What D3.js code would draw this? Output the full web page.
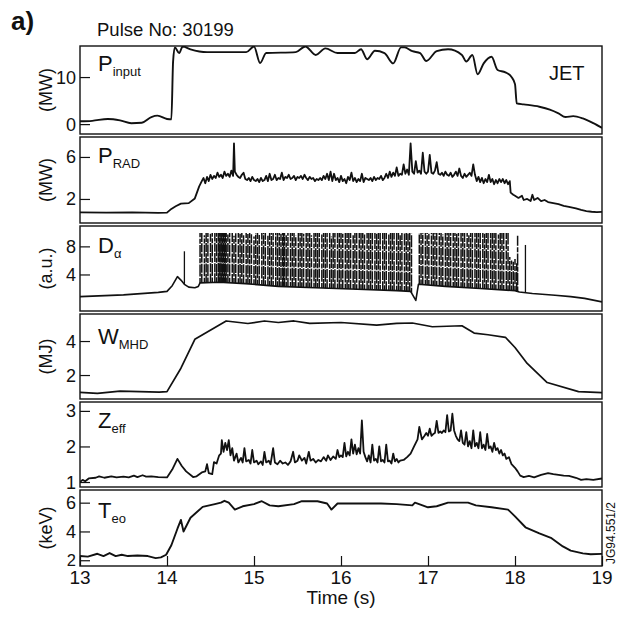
<!DOCTYPE html>
<html><head><meta charset="utf-8">
<script src="https://cdn.jsdelivr.net/npm/d3@7/dist/d3.min.js"></script>
<style>body{margin:0;background:#fff}text{font-family:"Liberation Sans",Arial,sans-serif;fill:#111}</style>
</head><body><svg id="c" width="622" height="634"></svg>
<script>
// ---------------- DATA ----------------
const timeTicks = [13,14,15,16,17,18,19];
const pulseNo = "30199";

const pinput = [[13.00,0.6],[13.14,0.7],[13.32,1.1],[13.46,0.8],[13.59,0.2],[13.71,0.3],[13.82,1.5],[13.89,1.8],[14.0,1.1],[14.05,1.0],[14.07,13.3],[14.09,16.3],[14.14,15.1],[14.18,16.5],[14.27,15.9],[14.46,15.3],[14.91,15.3],[15.0,16.5],[15.07,13.0],[15.14,15.1],[15.48,15.3],[15.59,16.5],[15.71,14.7],[15.82,16.1],[15.96,15.1],[16.16,15.1],[16.23,15.9],[16.30,13.8],[16.39,15.6],[16.50,15.1],[16.60,12.9],[16.69,16.3],[16.73,16.3],[16.82,15.5],[16.91,15.1],[16.98,13.4],[17.10,15.5],[17.23,15.9],[17.39,14.7],[17.44,13.3],[17.51,14.7],[17.57,10.6],[17.64,12.9],[17.73,14.3],[17.80,11.5],[17.89,11.0],[17.96,10.0],[18.0,8.5],[18.02,4.4],[18.10,4.2],[18.28,3.7],[18.40,3.1],[18.50,2.3],[18.58,1.5],[18.67,1.7],[18.78,1.2],[18.90,0.2],[19.0,-0.8]];

const prad = [[13.00,0.72],[13.30,0.70],[13.60,0.72],[13.90,0.68],[14.00,0.70],[14.05,1.05],[14.10,1.3],[14.16,1.55],[14.25,1.6],[14.32,2.05],[14.37,3.2],[14.40,3.7],[14.42,4.0],[14.44,3.5],[14.46,4.1],[14.48,3.7],[14.50,4.3],[14.52,3.9],[14.54,4.2],[14.56,4.0],[14.58,4.5],[14.60,4.1],[14.62,4.3],[14.64,4.0],[14.66,4.6],[14.68,4.2],[14.70,4.4],[14.72,4.1],[14.74,4.7],[14.76,4.2],[14.77,7.3],[14.78,4.6],[14.80,4.3],[14.82,4.1],[14.84,4.0],[14.86,4.3],[14.88,4.5],[14.90,3.9],[14.92,3.8],[14.94,4.0],[14.96,3.7],[14.98,4.1],[15.00,3.8],[15.02,3.7],[15.04,3.9],[15.06,3.6],[15.08,4.0],[15.10,3.7],[15.12,3.8],[15.14,4.2],[15.16,3.7],[15.18,4.4],[15.20,3.8],[15.22,3.9],[15.24,4.3],[15.26,3.8],[15.28,4.0],[15.30,3.9],[15.32,4.5],[15.34,3.8],[15.36,4.1],[15.38,4.0],[15.40,4.3],[15.42,3.9],[15.44,4.0],[15.46,4.2],[15.48,3.8],[15.50,4.1],[15.52,4.0],[15.54,4.2],[15.56,3.9],[15.58,4.3],[15.60,4.0],[15.62,3.8],[15.64,4.1],[15.66,3.9],[15.68,4.0],[15.70,3.7],[15.72,3.9],[15.74,3.8],[15.76,4.0],[15.78,3.8],[15.80,4.2],[15.82,3.9],[15.84,4.4],[15.86,3.8],[15.88,4.6],[15.90,3.7],[15.92,4.4],[15.94,3.8],[15.96,4.0],[15.98,3.6],[16.00,4.2],[16.02,3.7],[16.04,3.9],[16.06,3.5],[16.08,4.1],[16.10,3.8],[16.12,4.5],[16.14,3.7],[16.16,4.0],[16.18,3.6],[16.20,3.9],[16.22,3.7],[16.24,4.4],[16.26,3.6],[16.28,4.0],[16.30,3.9],[16.32,3.8],[16.34,4.0],[16.36,3.7],[16.38,4.1],[16.40,3.8],[16.42,4.0],[16.44,3.9],[16.46,4.2],[16.48,3.8],[16.50,4.0],[16.52,4.4],[16.54,4.0],[16.56,4.6],[16.58,4.1],[16.60,4.5],[16.62,4.2],[16.64,5.0],[16.66,4.2],[16.68,4.4],[16.70,4.3],[16.72,5.3],[16.74,4.4],[16.76,4.8],[16.78,4.3],[16.80,7.3],[16.82,4.6],[16.84,4.4],[16.86,5.6],[16.88,4.5],[16.90,4.7],[16.92,4.4],[16.94,6.4],[16.96,4.6],[16.98,4.4],[17.00,4.6],[17.02,6.2],[17.04,4.5],[17.06,4.4],[17.08,4.7],[17.10,5.5],[17.12,4.4],[17.14,4.3],[17.16,4.5],[17.18,4.2],[17.20,4.6],[17.22,4.3],[17.24,4.2],[17.26,4.5],[17.28,4.1],[17.30,4.3],[17.32,4.6],[17.34,4.2],[17.36,4.9],[17.38,4.2],[17.40,4.0],[17.42,4.4],[17.44,4.1],[17.46,4.3],[17.48,4.5],[17.50,4.2],[17.52,5.3],[17.54,4.3],[17.56,3.7],[17.58,4.1],[17.60,3.6],[17.62,4.0],[17.64,3.5],[17.66,3.9],[17.68,3.6],[17.70,4.3],[17.72,3.6],[17.74,3.9],[17.76,3.4],[17.78,3.8],[17.80,3.5],[17.82,3.9],[17.84,3.6],[17.86,3.9],[17.88,3.5],[17.90,3.8],[17.92,3.4],[17.94,3.7],[17.95,2.6],[17.98,2.4],[18.00,2.3],[18.04,2.1],[18.08,2.3],[18.10,1.9],[18.14,2.0],[18.18,1.8],[18.20,2.4],[18.22,1.9],[18.26,2.1],[18.30,1.8],[18.34,1.9],[18.38,1.7],[18.44,1.6],[18.50,1.5],[18.56,1.35],[18.62,1.25],[18.70,1.1],[18.76,0.95],[18.82,0.85],[18.88,0.78],[18.94,0.75],[19.00,0.76]];

const dalphaBase = [[13.0,0.85],[13.5,1.1],[13.9,1.45],[14.0,1.6],[14.06,2.4],[14.12,3.7],[14.16,3.2],[14.20,2.6],[14.25,2.2],[14.32,2.1],[14.36,2.3],[14.38,2.8],[14.6,2.9],[14.9,2.7],[15.28,2.3],[15.7,2.1],[16.19,1.9],[16.64,1.7],[16.80,1.6],[16.86,0.3],[16.89,2.6],[17.2,2.3],[17.6,2.0],[18.0,1.7],[18.05,1.5],[18.2,1.3],[18.46,1.05],[18.64,0.85],[18.8,0.6],[19.0,0.1]];

// ELM spikes of D-alpha: [time (s), peak (a.u.)]
const dalphaElms = [[14.20,7.3],[14.38,9.9],[14.40,9.9],[14.43,9.6],[14.45,9.9],[14.47,9.9],[14.50,9.8],[14.52,9.9],[14.55,9.9],[14.57,9.9],[14.59,9.9],[14.60,9.9],[14.61,9.9],[14.62,9.9],[14.63,9.9],[14.64,9.9],[14.65,9.9],[14.66,9.9],[14.67,9.9],[14.68,9.9],[14.70,9.7],[14.72,9.9],[14.75,9.9],[14.77,9.5],[14.79,9.9],[14.82,9.9],[14.84,9.8],[14.86,9.9],[14.88,9.6],[14.91,9.9],[14.93,9.9],[14.95,9.9],[14.97,9.9],[15.00,9.4],[15.02,9.9],[15.04,9.9],[15.06,9.7],[15.09,9.9],[15.11,9.9],[15.13,9.9],[15.16,9.5],[15.18,9.9],[15.20,9.9],[15.22,9.9],[15.25,9.9],[15.27,9.9],[15.29,9.9],[15.31,9.8],[15.33,9.9],[15.34,9.9],[15.35,9.9],[15.37,9.6],[15.39,9.9],[15.42,9.9],[15.44,9.9],[15.46,9.9],[15.48,9.5],[15.51,9.9],[15.53,9.9],[15.55,9.9],[15.57,9.8],[15.60,9.9],[15.62,9.9],[15.64,9.9],[15.66,9.6],[15.69,9.9],[15.71,9.9],[15.73,9.9],[15.75,9.9],[15.78,9.7],[15.80,9.9],[15.82,9.9],[15.84,9.9],[15.87,9.9],[15.89,9.4],[15.91,9.9],[15.93,9.9],[15.96,9.9],[15.98,9.9],[16.00,9.9],[16.02,9.8],[16.05,9.9],[16.07,9.9],[16.09,9.9],[16.11,9.9],[16.14,9.6],[16.16,9.9],[16.18,9.9],[16.21,9.9],[16.23,9.9],[16.25,9.9],[16.27,9.7],[16.30,9.9],[16.32,9.9],[16.34,9.9],[16.36,9.9],[16.39,9.9],[16.41,9.8],[16.43,9.9],[16.45,9.9],[16.48,9.9],[16.50,9.9],[16.52,9.9],[16.55,9.7],[16.57,9.9],[16.59,9.9],[16.61,9.9],[16.64,9.9],[16.66,9.9],[16.68,9.6],[16.70,9.9],[16.73,9.9],[16.75,9.9],[16.77,9.9],[16.79,9.9],[16.81,9.8],[16.90,9.9],[16.92,9.9],[16.94,9.9],[16.97,9.9],[16.99,9.9],[17.01,9.8],[17.04,9.9],[17.06,9.9],[17.08,9.9],[17.10,9.9],[17.13,9.9],[17.15,9.9],[17.17,9.7],[17.20,9.9],[17.22,9.9],[17.24,9.9],[17.26,9.9],[17.29,9.9],[17.31,9.9],[17.33,9.8],[17.35,9.9],[17.38,9.9],[17.40,9.9],[17.42,9.9],[17.45,9.9],[17.47,9.6],[17.49,9.9],[17.51,9.9],[17.54,9.9],[17.56,9.9],[17.58,9.9],[17.60,9.9],[17.63,9.9],[17.65,9.8],[17.67,9.9],[17.69,9.9],[17.72,9.9],[17.74,9.9],[17.76,9.9],[17.78,9.9],[17.81,9.7],[17.83,9.9],[17.85,9.9],[17.87,9.9],[17.90,9.9],[17.92,9.9],[17.94,6.5],[17.96,6.0],[17.98,5.8],[18.00,6.2],[18.02,5.6],[18.03,9.5],[18.12,8.2]];

const wmhd = [[13.0,0.98],[13.2,0.92],[13.46,1.05],[13.91,1.0],[14.0,1.02],[14.16,2.40],[14.32,4.10],[14.68,5.18],[14.93,5.03],[15.12,5.18],[15.28,5.09],[15.46,5.18],[15.64,5.04],[16.0,5.09],[16.41,4.94],[16.64,5.04],[16.82,5.06],[17.05,4.84],[17.39,4.90],[17.53,4.47],[17.69,4.37],[17.89,4.22],[18.0,3.62],[18.14,2.68],[18.37,1.56],[18.73,1.02],[19.0,0.96]];

const zeff = [[13.00,1.00],[13.03,1.06],[13.06,1.02],[13.10,1.10],[13.18,1.12],[13.22,1.16],[13.28,1.12],[13.36,1.16],[13.42,1.13],[13.50,1.15],[13.56,1.13],[13.62,1.18],[13.66,1.14],[13.72,1.19],[13.76,1.15],[13.82,1.16],[13.90,1.14],[14.00,1.13],[14.06,1.35],[14.12,1.65],[14.17,1.45],[14.22,1.30],[14.30,1.14],[14.34,1.16],[14.40,1.27],[14.44,1.30],[14.46,1.50],[14.48,1.25],[14.52,1.22],[14.54,1.56],[14.57,1.52],[14.60,1.75],[14.62,1.80],[14.63,2.18],[14.65,1.85],[14.67,2.10],[14.69,1.90],[14.71,2.18],[14.73,1.75],[14.75,1.95],[14.77,1.60],[14.80,1.80],[14.82,1.55],[14.85,1.68],[14.87,1.55],[14.89,1.95],[14.91,1.58],[14.94,1.62],[14.96,1.52],[14.98,1.90],[15.00,1.55],[15.03,1.60],[15.05,1.50],[15.08,1.58],[15.10,1.48],[15.12,1.85],[15.14,1.55],[15.17,1.60],[15.19,1.50],[15.22,1.95],[15.24,1.55],[15.27,1.50],[15.30,1.60],[15.33,1.52],[15.36,1.55],[15.39,1.48],[15.42,1.58],[15.45,1.85],[15.47,1.55],[15.50,1.60],[15.52,1.75],[15.55,1.60],[15.58,1.68],[15.60,1.52],[15.63,1.85],[15.65,1.60],[15.68,1.65],[15.71,1.55],[15.74,1.62],[15.77,1.58],[15.80,1.70],[15.83,1.60],[15.85,1.75],[15.88,1.62],[15.91,1.72],[15.94,1.65],[15.96,1.90],[15.98,1.70],[16.00,1.75],[16.02,1.70],[16.04,2.10],[16.06,1.72],[16.08,1.85],[16.10,1.75],[16.12,2.20],[16.14,1.80],[16.16,2.05],[16.18,1.78],[16.20,1.95],[16.22,1.80],[16.24,2.73],[16.26,1.85],[16.28,1.70],[16.30,1.58],[16.32,1.75],[16.34,1.55],[16.36,2.05],[16.38,1.60],[16.40,1.65],[16.42,1.55],[16.44,2.00],[16.46,1.58],[16.48,1.62],[16.50,1.55],[16.52,2.05],[16.54,1.58],[16.56,1.60],[16.58,1.52],[16.60,1.80],[16.62,1.58],[16.64,1.65],[16.66,1.55],[16.68,1.60],[16.72,1.62],[16.76,1.70],[16.80,1.80],[16.84,2.00],[16.88,2.20],[16.90,2.55],[16.93,2.20],[16.96,2.30],[16.98,2.38],[17.00,2.30],[17.02,2.50],[17.04,2.30],[17.06,2.35],[17.08,2.38],[17.10,2.72],[17.12,2.38],[17.14,2.42],[17.16,2.38],[17.18,2.45],[17.20,2.40],[17.22,2.88],[17.24,2.42],[17.26,2.45],[17.28,2.92],[17.30,2.45],[17.32,2.30],[17.34,2.20],[17.36,2.15],[17.38,2.45],[17.40,2.10],[17.42,2.05],[17.44,2.40],[17.46,2.00],[17.48,2.15],[17.50,1.95],[17.52,2.45],[17.54,2.00],[17.56,2.10],[17.58,1.95],[17.60,2.40],[17.62,1.95],[17.64,2.05],[17.66,1.90],[17.68,2.35],[17.70,1.95],[17.72,2.00],[17.74,1.85],[17.76,2.10],[17.78,1.90],[17.80,1.95],[17.82,1.80],[17.84,1.90],[17.86,1.75],[17.88,1.80],[17.90,1.65],[17.93,1.70],[17.96,1.50],[18.00,1.40],[18.03,1.30],[18.06,1.18],[18.10,1.14],[18.16,1.17],[18.22,1.13],[18.30,1.20],[18.38,1.25],[18.44,1.22],[18.50,1.20],[18.56,1.18],[18.62,1.17],[18.70,1.12],[18.76,1.06],[18.82,1.08],[18.90,1.06],[19.00,1.10]];

const teo = [[13.0,2.29],[13.09,2.25],[13.2,2.45],[13.27,2.29],[13.34,2.5],[13.41,2.29],[13.48,2.38],[13.55,2.29],[13.66,2.33],[13.78,2.29],[13.87,2.15],[13.93,2.2],[13.99,2.38],[14.05,3.04],[14.12,4.19],[14.16,4.8],[14.19,4.0],[14.27,4.95],[14.41,5.71],[14.55,5.9],[14.62,6.0],[14.66,6.13],[14.71,6.0],[14.78,5.52],[14.87,5.75],[15.0,5.9],[15.09,6.1],[15.18,5.81],[15.28,5.75],[15.46,5.9],[15.55,6.1],[15.73,6.1],[15.84,5.94],[15.89,5.52],[15.96,5.94],[16.19,5.94],[16.46,5.94],[16.64,5.9],[16.82,5.81],[16.85,6.0],[17.0,5.68],[17.1,5.75],[17.23,6.0],[17.46,6.0],[17.55,5.81],[17.73,5.68],[17.92,5.52],[18.0,5.05],[18.12,4.29],[18.28,3.86],[18.42,3.53],[18.55,2.96],[18.64,2.67],[18.78,2.48],[18.87,2.42],[19.0,2.44]];

// ---------------- LAYOUT ----------------
const svg = d3.select("#c");
const X0 = 80, X1 = 602;
const x = d3.scaleLinear().domain([13,19]).range([X0,X1]);

const panels = [
  {top:46, bot:134, dom:[-2.1,16.6], ticks:[0,10], unit:"(MW)", sym:"P", sub:"input", lab:25, data:pinput, curve:d3.curveMonotoneX, sw:1.9},
  {top:137, bot:223, dom:[-0.29,7.9], ticks:[2,6], unit:"(MW)", sym:"P", sub:"RAD", lab:26, data:prad, curve:d3.curveLinear, sw:1.8},
  {top:226, bot:311, dom:[-1.2,10.9], ticks:[4,8], unit:"(a.u.)", sym:"D", sub:"\u03b1", lab:27, data:dalphaBase, curve:d3.curveLinear, sw:1.6},
  {top:314, bot:399, dom:[0.59,5.59], ticks:[2,4], unit:"(MJ)", sym:"W", sub:"MHD", lab:30, data:wmhd, curve:d3.curveLinear, sw:1.7},
  {top:402, bot:487, dom:[0.86,3.25], ticks:[1,2,3], unit:"", sym:"Z", sub:"eff", lab:26, data:zeff, curve:d3.curveLinear, sw:1.8},
  {top:490, bot:566, dom:[1.6,6.88], ticks:[2,4,6], unit:"(keV)", sym:"T", sub:"eo", lab:28, data:teo, curve:d3.curveLinear, sw:1.9}
];

svg.append("text").attr("x",11).attr("y",30).attr("font-size",26).attr("font-weight","bold").text("a)");
svg.append("text").attr("x",97).attr("y",36).attr("font-size",18.5).text("Pulse No: " + pulseNo);

panels.forEach((p,i) => {
  const y = d3.scaleLinear().domain(p.dom).range([p.bot,p.top]);
  const g = svg.append("g");
  g.append("rect").attr("x",X0).attr("y",p.top).attr("width",X1-X0).attr("height",p.bot-p.top)
    .attr("fill","none").attr("stroke","#111").attr("stroke-width",1.4);
  const ax = d3.axisRight(y).tickValues(p.ticks).tickSize(10).tickFormat("");
  const ag = g.append("g").attr("transform",`translate(${X0},0)`).call(ax);
  ag.select(".domain").remove();
  ag.selectAll("line").attr("stroke","#111").attr("stroke-width",1.2);
  p.ticks.forEach(t => {
    g.append("text").attr("x",X0-4).attr("y",y(t)).attr("dy","0.36em").attr("text-anchor","end")
      .attr("font-size",i === 5 && t === 2 ? 16.5 : 18).text(t);
  });
  if (p.unit) {
    g.append("text").attr("transform",`translate(52,${(p.top+p.bot)/2}) rotate(-90)`)
      .attr("text-anchor","middle").attr("font-size",18).text(p.unit);
  }
  const lbl = g.append("text").attr("x",98).attr("y",p.top+p.lab).attr("font-size",22);
  lbl.append("tspan").text(p.sym);
  lbl.append("tspan").attr("font-size",13).attr("dy",5).text(p.sub);

  const clipId = "clip"+i;
  svg.append("clipPath").attr("id",clipId).append("rect").attr("x",X0).attr("y",p.top).attr("width",X1-X0).attr("height",p.bot-p.top);
  const line = d3.line().x(d=>x(d[0])).y(d=>y(d[1])).curve(p.curve);
  g.append("path").attr("clip-path",`url(#${clipId})`).attr("d",line(p.data)).attr("fill","none")
    .attr("stroke","#111").attr("stroke-width",p.sw).attr("stroke-linejoin","round");

  if (i === 2) {
    const baseAt = d3.scaleLinear().domain(dalphaBase.map(d=>d[0])).range(dalphaBase.map(d=>d[1]));
    const sp = g.append("g").attr("clip-path",`url(#${clipId})`);
    sp.selectAll("line.elm").data(dalphaElms).join("line").attr("class","elm")
      .attr("x1",d=>x(d[0])).attr("x2",d=>x(d[0]))
      .attr("y1",d=>y(baseAt(d[0]))).attr("y2",d=>y(d[1]))
      .attr("stroke","#111").attr("stroke-width",d => (d[0] < 14.3 || d[0] > 18.1) ? 1.3 : 1.5)
      .attr("stroke-dasharray",(d,k)=> (d[0] < 14.3 || d[0] > 18.1) ? null : (k % 2 === 0 ? "9,1.2" : "5,1.4,12,1.2"));
  }
  if (i === 0) {
    g.append("text").attr("x",549).attr("y",p.top+34).attr("font-size",20).text("JET");
  }
  if (i === panels.length-1) {
    const xa = d3.axisTop(x).tickValues(timeTicks).tickSize(10).tickFormat("");
    const xg = g.append("g").attr("transform",`translate(0,${p.bot})`).call(xa);
    xg.select(".domain").remove();
    xg.selectAll("line").attr("stroke","#111").attr("stroke-width",1.2);
    timeTicks.forEach(t => {
      g.append("text").attr("x",x(t)).attr("y",p.bot+18).attr("text-anchor","middle").attr("font-size",19).text(t);
    });
    g.append("text").attr("x",x(16)).attr("y",p.bot+38).attr("text-anchor","middle").attr("font-size",19).text("Time (s)");
    g.append("text").attr("transform",`translate(${X1+13},${p.bot-2}) rotate(-90)`).attr("font-size",12).text("JG94.551/2");
  }
});
</script></body></html>
